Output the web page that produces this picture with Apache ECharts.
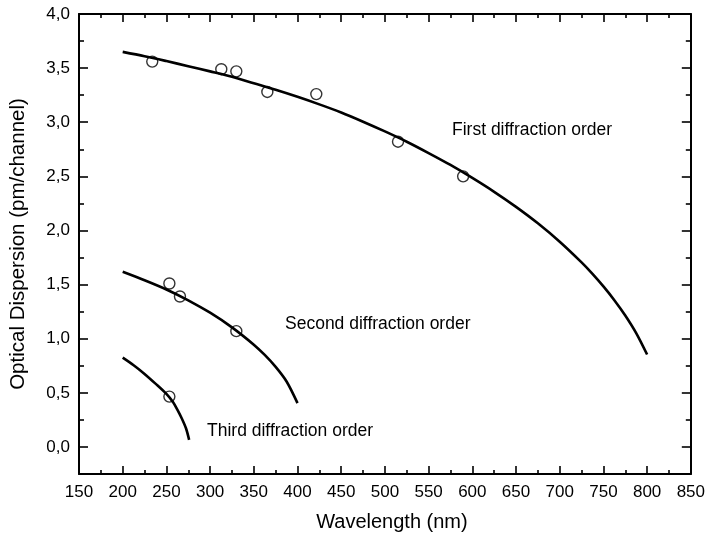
<!DOCTYPE html>
<html>
<head>
<meta charset="utf-8">
<script src="https://cdn.jsdelivr.net/npm/echarts@6/dist/echarts.min.js"></script>
<style>
html,body{margin:0;padding:0;background:#fff;}
#chart{width:708px;height:539px;}
</style>
</head>
<body>
<div id="chart"></div>
<script>
// ---- data ----
var xTicks = [150,200,250,300,350,400,450,500,550,600,650,700,750,800,850];
var yTicks = [0,0.5,1.0,1.5,2.0,2.5,3.0,3.5,4.0];
var yMinorTicks = [-0.25,0.25,0.75,1.25,1.75,2.25,2.75,3.25,3.75];

var firstWl = [200,225,250,275,300,325,350,375,400,425,450,475,500,525,550,575,600,625,650,675,700,725,737.5,750,762.5,775,787.5,800];
var firstD  = [3.65,3.61,3.565,3.518,3.47,3.42,3.36,3.30,3.235,3.165,3.09,3.005,2.915,2.82,2.715,2.605,2.485,2.357,2.218,2.066,1.896,1.705,1.599,1.483,1.356,1.215,1.052,0.854];

var secondWl = [200,225,250,275,300,325,350,362.5,375,387.5,400];
var secondD  = [1.618,1.54,1.455,1.355,1.24,1.105,0.945,0.85,0.74,0.605,0.405];

var thirdWl = [200,212.5,225,237.5,250,257.5,262.5,267.5,272.5,276];
var thirdD  = [0.825,0.755,0.675,0.585,0.49,0.415,0.345,0.265,0.17,0.065];

var firstPtsWl = [233.8,312.8,330,365.5,421.5,515,589.5];
var firstPtsD  = [3.56,3.49,3.47,3.28,3.26,2.82,2.50];
var secondPtsWl = [253.4,265.5,330];
var secondPtsD  = [1.51,1.39,1.07];
var thirdPtsWl = [253.4];
var thirdPtsD  = [0.465];

var labels = ['First diffraction order','Second diffraction order','Third diffraction order'];
var xTitle = 'Wavelength (nm)';
var yTitle = 'Optical Dispersion (pm/channel)';

function zip(a,b){ return a.map(function(v,i){ return [v,b[i]]; }); }

var FONT = 'Liberation Sans, Arial, sans-serif';
var chart = echarts.init(document.getElementById('chart'), null, {renderer:'canvas'});

var axisLineStyle = {color:'#000', width:2};
var baseX = {
  type:'value', min:150, max:850, interval:50,
  axisLine:{show:true, onZero:false, lineStyle:axisLineStyle},
  axisTick:{show:true, inside:true, length:8, lineStyle:{color:'#000', width:1.6}},
  minorTick:{show:true, splitNumber:2, length:4, lineStyle:{color:'#000', width:1.6}},
  splitLine:{show:false}, minorSplitLine:{show:false}
};
function yAxisDef(pos, values, len, showLabel, showLine){
  return {
    type:'value', min:-0.25, max:4.0, position:pos,
    axisLine:{show:showLine, onZero:false, lineStyle:axisLineStyle},
    axisTick:{show:true, inside:true, length:len, customValues:values, lineStyle:{color:'#000', width:1.6}},
    axisLabel:{show:showLabel, customValues:values, color:'#000', fontFamily:FONT, fontSize:17, margin:9,
      formatter:function(v){ return v.toFixed(1).replace('.', ','); }},
    splitLine:{show:false}
  };
}

var option = {
  backgroundColor:'#fff',
  animation:false,
  grid:{left:77, right:13, top:14, bottom:65, containLabel:false},
  xAxis:[
    Object.assign({}, baseX, {position:'bottom',
      name:xTitle, nameLocation:'middle', nameGap:38,
      nameTextStyle:{color:'#000', fontFamily:FONT, fontSize:20, padding:[0,0,0,14]},
      axisLabel:{show:true, color:'#000', fontFamily:FONT, fontSize:17, margin:10,
        customValues:xTicks}}),
    Object.assign({}, baseX, {position:'top', axisLabel:{show:false}})
  ],
  yAxis:[
    Object.assign(yAxisDef('left', yTicks, 9, true, true), {
      name:yTitle, nameLocation:'middle', nameGap:50, nameRotate:90,
      nameTextStyle:{color:'#000', fontFamily:FONT, fontSize:20.5}}),
    yAxisDef('left', yMinorTicks, 5, false, false),
    yAxisDef('right', yTicks, 9, false, true),
    yAxisDef('right', yMinorTicks, 5, false, false)
  ],
  series:[
    {type:'line', data:zip(firstWl, firstD), smooth:0.3, showSymbol:false, symbol:'none',
      lineStyle:{color:'#000', width:2.6}},
    {type:'line', data:zip(secondWl, secondD), smooth:0.3, showSymbol:false, symbol:'none',
      lineStyle:{color:'#000', width:2.6}},
    {type:'line', data:zip(thirdWl, thirdD), smooth:0.3, showSymbol:false, symbol:'none',
      lineStyle:{color:'#000', width:2.6}},
    {type:'scatter', data:zip(firstPtsWl, firstPtsD), symbol:'circle', symbolSize:11,
      itemStyle:{color:'rgba(255,255,255,0)', borderColor:'#000', borderWidth:1.4}, z:3},
    {type:'scatter', data:zip(secondPtsWl, secondPtsD), symbol:'circle', symbolSize:11,
      itemStyle:{color:'rgba(255,255,255,0)', borderColor:'#000', borderWidth:1.4}, z:3},
    {type:'scatter', data:zip(thirdPtsWl, thirdPtsD), symbol:'circle', symbolSize:11,
      itemStyle:{color:'rgba(255,255,255,0)', borderColor:'#000', borderWidth:1.4}, z:3}
  ],
  graphic:[
    {type:'text', left:452, top:121, style:{text:labels[0], fill:'#000', font:'17.5px ' + FONT}},
    {type:'text', left:285, top:315, style:{text:labels[1], fill:'#000', font:'17.5px ' + FONT}},
    {type:'text', left:207, top:422, style:{text:labels[2], fill:'#000', font:'17.5px ' + FONT}}
  ]
};
chart.setOption(option);
</script>
</body>
</html>
